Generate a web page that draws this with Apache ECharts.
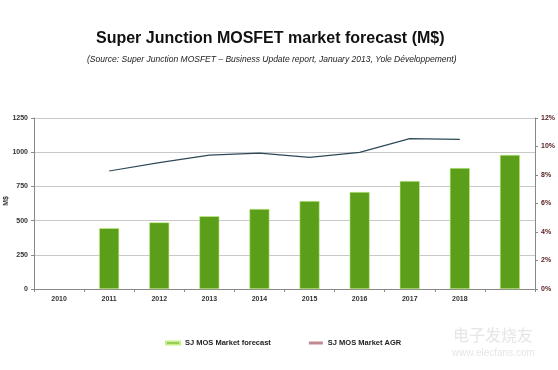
<!DOCTYPE html>
<html>
<head>
<meta charset="utf-8">
<script src="https://cdn.jsdelivr.net/npm/echarts@6/dist/echarts.min.js"></script>
<style>html,body{margin:0;padding:0;background:#fff;}#c{width:558px;height:370px;}</style>
</head>
<body>
<div id="c"></div>
<script>
var categories = ['2010','2011','2012','2013','2014','2015','2016','2017','2018',''];
var forecastValues = [null, 445, 487, 532, 585, 643, 709, 789, 884, 980];
var agrValues = [null, 0.0828, 0.0887, 0.0940, 0.0954, 0.0924, 0.0959, 0.1055, 0.1050, null];
var leftTicks = [0, 250, 500, 750, 1000, 1250];
var rightTicks = [0, 0.02, 0.04, 0.06, 0.08, 0.10, 0.12];

var chart = echarts.init(document.getElementById('c'), null, {renderer: 'canvas'});
var lbl = {fontFamily: 'Liberation Sans, Arial', fontWeight: 'bold', fontSize: 7, color: '#333'};
chart.setOption({
  animation: false,
  backgroundColor: '#fff',
  title: [{
    text: 'Super Junction MOSFET market forecast (M$)',
    left: 91, top: 26,
    textStyle: {fontFamily: 'Liberation Sans, Arial', fontWeight: 'bold', fontSize: 16, color: '#111'}
  }, {
    text: '(Source: Super Junction MOSFET \u2013 Business Update report, January 2013, Yole D\u00e9veloppement)',
    left: 82, top: 50,
    textStyle: {fontFamily: 'Liberation Sans, Arial', fontStyle: 'italic', fontWeight: 'normal', fontSize: 8.5, color: '#222'}
  }],
  legend: {
    left: 160, top: 334, itemGap: 38,
    textStyle: {fontFamily: 'Liberation Sans, Arial', fontWeight: 'bold', fontSize: 7.5, color: '#222'},
    data: [
      {name: 'SJ MOS Market forecast', icon: 'rect', itemStyle: {color: '#6aa52a'}},
      {name: 'SJ MOS Market AGR', icon: 'rect', itemStyle: {color: '#c08890'}}
    ],
    itemWidth: 14, itemHeight: 3
  },
  grid: {left: 34, right: 23, top: 118, bottom: 81},
  xAxis: {
    type: 'category', data: categories, boundaryGap: true,
    axisLine: {lineStyle: {color: '#888'}},
    axisTick: {show: true, interval: 0, alignWithLabel: false, length: 3, lineStyle: {color: '#888'}},
    axisLabel: Object.assign({interval: 0, margin: 7}, lbl)
  },
  yAxis: [{
    type: 'value', min: 0, max: 1250, interval: 250,
    axisLine: {show: true, lineStyle: {color: '#888'}},
    axisTick: {show: true, length: 3, lineStyle: {color: '#888'}},
    axisLabel: Object.assign({margin: 6, formatter: function(v){ return String(v); }}, lbl),
    splitLine: {lineStyle: {color: '#c8c8c8', width: 1}}
  }, {
    type: 'value', min: 0, max: 0.12, interval: 0.02,
    axisLine: {show: true, lineStyle: {color: '#888'}},
    axisTick: {show: true, length: 3, lineStyle: {color: '#888'}},
    axisLabel: Object.assign({margin: 6, formatter: function(v){ return Math.round(v*100) + '%'; }}, lbl, {color: '#5a2020'}),
    splitLine: {show: false}
  }],
  series: [{
    name: 'SJ MOS Market forecast', type: 'bar', data: forecastValues,
    barWidth: 20, itemStyle: {color: '#5a9e1a', borderColor: '#c8ef8a', borderWidth: 0.6}
  }, {
    name: 'SJ MOS Market AGR', type: 'line', yAxisIndex: 1, data: agrValues,
    showSymbol: false, symbol: 'none', smooth: false,
    lineStyle: {color: '#2e4a58', width: 1.2}, itemStyle: {color: '#c08890'}
  }],
  graphic: [{
    type: 'text', left: 3, top: 196, rotation: Math.PI/2,
    style: {text: 'M$', fontFamily: 'Liberation Sans, Arial', fontWeight: 'bold', fontSize: 7, fill: '#333'}
  }, {
    type: 'text', left: 453, top: 327,
    style: {text: '电子发烧友', fontFamily: 'Noto Sans CJK SC', fontSize: 16, fill: '#e6e6e6'}
  }, {
    type: 'text', left: 452, top: 348,
    style: {text: 'www.elecfans.com', fontFamily: 'Liberation Sans, Arial', fontSize: 10, fill: '#e6e6e6'}
  }]
});
</script>
</body>
</html>
